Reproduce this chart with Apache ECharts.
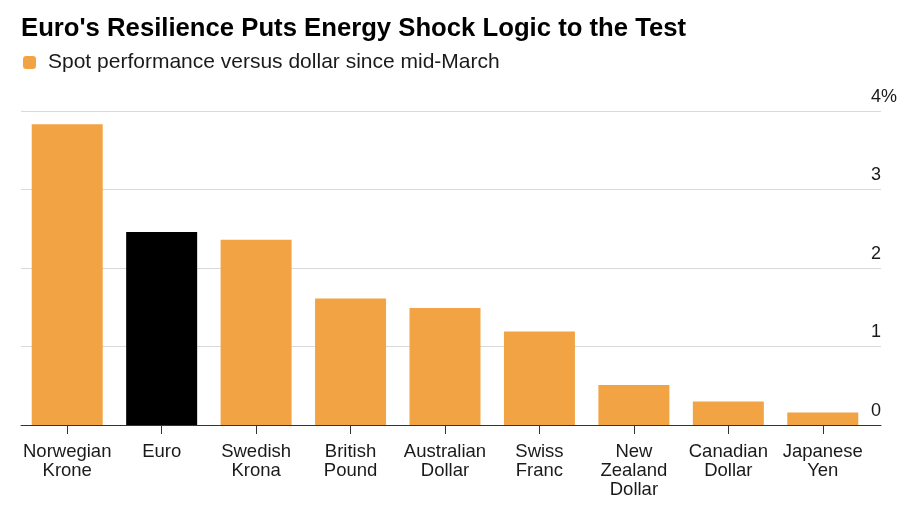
<!DOCTYPE html>
<html>
<head>
<meta charset="utf-8">
<script src="https://cdn.jsdelivr.net/npm/echarts@6/dist/echarts.min.js"></script>
<style>
html,body{margin:0;padding:0;background:#fff;}
#c{width:900px;height:510px;}
</style>
</head>
<body>
<div id="c"></div>
<script>
const categories = ['Norwegian\nKrone', 'Euro', 'Swedish\nKrona', 'British\nPound', 'Australian\nDollar', 'Swiss\nFranc', 'New\nZealand\nDollar', 'Canadian\nDollar', 'Japanese\nYen'];
const spotPerformance = [3.83, 2.46, 2.36, 1.61, 1.49, 1.19, 0.51, 0.30, 0.16];
const highlighted = ['Euro'];
const yTicks = [0, 1, 2, 3, 4];

const FONT = '"Liberation Sans", Arial, Helvetica, sans-serif';
const ORANGE = '#F2A444';

const chart = echarts.init(document.getElementById('c'), null, {renderer: 'canvas'});
chart.setOption({
  animation: false,
  backgroundColor: '#ffffff',
  textStyle: {fontFamily: FONT},
  title: {
    text: "Euro's Resilience Puts Energy Shock Logic to the Test",
    left: 16, top: 11,
    textStyle: {fontFamily: FONT, fontWeight: 'bold', fontSize: 25.7, color: '#000'}
  },
  legend: {
    left: 23, top: 52, padding: 0,
    itemWidth: 13, itemHeight: 13,
    icon: 'roundRect',
    selectedMode: false,
    data: ['Spot performance versus dollar since mid-March'],
    textStyle: {fontFamily: FONT, fontSize: 21, color: '#1a1a1a', padding: [0, 0, 0, 7]}
  },
  grid: [
    {left: 20, right: 30, top: 111, bottom: 85},
    {left: 21, right: 19, top: 111, bottom: 85}
  ],
  xAxis: [
    {
      type: 'category', gridIndex: 0, data: categories,
      axisLine: {show: false},
      axisTick: {show: true, alignWithLabel: true, length: 9, lineStyle: {color: '#333', width: 1}},
      axisLabel: {interval: 0, margin: 17, fontFamily: FONT, fontSize: 18.5, lineHeight: 19, color: '#1a1a1a'}
    },
    {
      type: 'value', gridIndex: 1, min: 0, max: 1,
      axisLine: {show: true, onZero: false, lineStyle: {color: '#333', width: 1}},
      axisTick: {show: false}, axisLabel: {show: false}, splitLine: {show: false}
    }
  ],
  yAxis: [
    {type: 'value', gridIndex: 0, min: 0, max: 4, show: false},
    {
      type: 'value', gridIndex: 1, min: yTicks[0], max: yTicks[yTicks.length - 1], interval: 1,
      position: 'right',
      axisLine: {show: false}, axisTick: {show: false},
      splitLine: {show: true, lineStyle: {color: '#d9d9d9', width: 1}},
      axisLabel: {
        inside: true, margin: -16, align: 'right', verticalAlign: 'bottom', padding: [0, 0, 5, 0],
        formatter: function (v) {
          return v === yTicks[yTicks.length - 1] ? '{n|' + v + '}{q|%}' : '{n|' + v + '}{h|%}';
        },
        rich: {
          n: {fontFamily: FONT, fontSize: 18, lineHeight: 18, color: '#1a1a1a'},
          q: {fontFamily: FONT, fontSize: 18, lineHeight: 18, color: '#1a1a1a'},
          h: {fontFamily: FONT, fontSize: 18, lineHeight: 18, color: 'rgba(0,0,0,0)'}
        }
      }
    }
  ],
  series: [{
    name: 'Spot performance versus dollar since mid-March',
    type: 'bar', xAxisIndex: 0, yAxisIndex: 0,
    barWidth: 71,
    itemStyle: {color: ORANGE},
    data: spotPerformance.map(function (v, i) {
      return highlighted.indexOf(categories[i]) >= 0 ? {value: v, itemStyle: {color: '#000000'}} : v;
    })
  }]
});
</script>
</body>
</html>
